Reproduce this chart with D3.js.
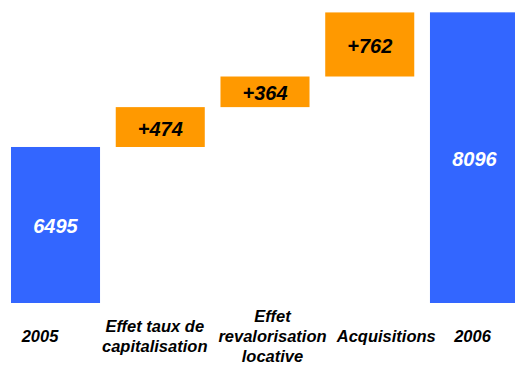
<!DOCTYPE html>
<html lang='fr'>
<head>
    <meta charset='UTF-8'>
    <title>Waterfall 2005 - 2006</title>
    <script src='https://d3js.org/d3.v7.min.js'></script>
    <style>
        body { margin: 0; background: #fff; }
        svg { display: block; font-family: 'Liberation Sans', Arial, sans-serif; }
    </style>
</head>
<body>
<div id='viz'></div>

<script>
// chart data
const categories = ['2005', 'Effet taux de capitalisation', 'Effet revalorisation locative', 'Acquisitions', '2006']
const labelLines = [['2005'], ['Effet taux de', 'capitalisation'], ['Effet', 'revalorisation', 'locative'], ['Acquisitions'], ['2006']]
const values = [6495, 474, 364, 762, 8096]
const kinds = ['total', 'delta', 'delta', 'delta', 'total']
const valueLabels = ['6495', '+474', '+364', '+762', '8096']

// category labels are not quite centred under the bars in the original
const labelShift = [-15.5, -5.5, 7.5, 16.5, -2]

const width = 515, height = 367

const svg = d3.select('#viz').append('svg')
    .attr('width', width)
    .attr('height', height)

// build start / end for each bar (waterfall)
let running = 0
const bars = categories.map((c, i) => {
    let start, end
    if (kinds[i] === 'total') { start = null; end = values[i]; running = values[i] }
    else { start = running; end = running + values[i]; running = end }
    return { cat: c, kind: kinds[i], start: start, end: end, label: valueLabels[i], lines: labelLines[i], i: i }
})

const x = d3.scaleBand()
    .domain(categories)
    .range([11, 519])
    .paddingInner(0.15)
    .paddingOuter(0)

const y = d3.scaleLinear()
    .domain([4640, 8100])   // axis does not start at zero
    .range([303, 12])

const barG = svg.append('g').selectAll('g')
    .data(bars)
    .enter()
    .append('g')

barG.append('rect')
    .attr('x', d => x(d.cat))
    .attr('width', x.bandwidth())
    .attr('y', d => y(d.end))
    .attr('height', d => d.kind === 'total' ? y.range()[0] - y(d.end) : y(d.start) - y(d.end))
    .attr('fill', d => d.kind === 'total' ? '#3366ff' : '#ff9900')

barG.append('text')
    .attr('x', d => x(d.cat) + x.bandwidth() / 2)
    .attr('y', d => {
        let top = y(d.end)
        let bottom = d.kind === 'total' ? y.range()[0] : y(d.start)
        return (top + bottom) / 2 + 8.5
    })
    .attr('text-anchor', 'middle')
    .style('font-size', '20px')
    .style('font-style', 'italic')
    .style('font-weight', 'bold')
    .attr('fill', d => d.kind === 'total' ? '#fff' : '#000')
    .text(d => d.label)

// category labels, stacked lines centred on baseline 342
const catText = svg.append('g').selectAll('text')
    .data(bars)
    .enter()
    .append('text')
    .attr('text-anchor', 'middle')
    .style('font-size', '16.5px')
    .style('font-style', 'italic')
    .style('font-weight', 'bold')
    .attr('fill', '#000')

catText.selectAll('tspan')
    .data(d => d.lines.map((t, j) => ({ t: t, j: j, n: d.lines.length, cx: x(d.cat) + x.bandwidth() / 2 + labelShift[d.i] })))
    .enter()
    .append('tspan')
    .attr('x', d => d.cx)
    .attr('y', d => 342 + (d.j - (d.n - 1) / 2) * 20)
    .text(d => d.t)
</script>
</body>
</html>
